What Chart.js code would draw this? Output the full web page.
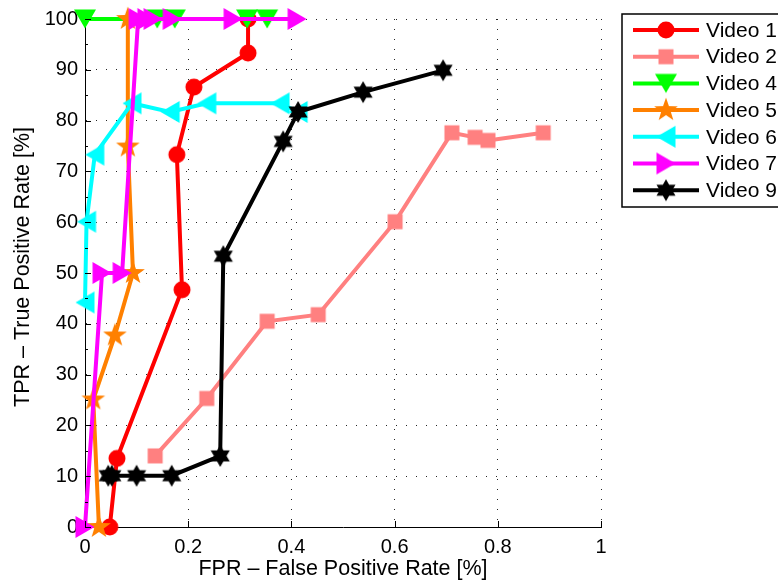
<!DOCTYPE html>
<html>
<head>
<meta charset="utf-8">
<script src="https://cdn.jsdelivr.net/npm/chart.js@4.4.1/dist/chart.umd.min.js"></script>
<style>
html, body { margin: 0; padding: 0; background: #fff; }
</style>
</head>
<body>
<canvas id="rocChart" width="778" height="588"></canvas>
<script>
// values (FPR as fraction, TPR in %)
const seriesNames = ['Video 1', 'Video 2', 'Video 4', 'Video 5', 'Video 6', 'Video 7', 'Video 9'];

const video1X = [0.048, 0.062, 0.188, 0.178, 0.211, 0.316, 0.316];
const video1Y = [0, 13.5, 46.7, 73.3, 86.6, 93.3, 100];

const video2X = [0.136, 0.236, 0.353, 0.452, 0.601, 0.711, 0.756, 0.781, 0.888];
const video2Y = [14, 25.3, 40.5, 41.8, 60.1, 77.6, 76.7, 76.1, 77.6];

const video4X = [0, 0.14, 0.174, 0.314, 0.353];
const video4Y = [100, 100, 100, 100, 100];

const video5X = [0.027, 0.016, 0.058, 0.093, 0.083, 0.083];
const video5Y = [0, 25.1, 37.7, 50, 74.9, 100];

const video6X = [0, 0.003, 0.019, 0.091, 0.165, 0.236, 0.378, 0.413];
const video6Y = [44.2, 60.1, 73.3, 83.4, 81.7, 83.4, 83.4, 81.7];

const video7X = [0, 0.033, 0.072, 0.103, 0.12, 0.132, 0.169, 0.287, 0.411];
const video7Y = [0, 50, 50, 100, 100, 100, 100, 100, 100];

const video9X = [0.045, 0.052, 0.1, 0.168, 0.262, 0.268, 0.384, 0.413, 0.539, 0.694];
const video9Y = [10.1, 10.1, 10.1, 10.1, 14, 53.3, 75.9, 81.7, 85.6, 89.9];

const xTickLabels = ['0', '0.2', '0.4', '0.6', '0.8', '1'];
const yTickLabels = ['0', '10', '20', '30', '40', '50', '60', '70', '80', '90', '100'];

const FONT = "'Liberation Sans', Arial, Helvetica, sans-serif";

// marker images (matlab style markers)
function starPath(g, n, outer, inner) {
    for (let i = 0; i < n * 2; i++) {
        const r = i % 2 === 0 ? outer : inner;
        const a = -Math.PI / 2 + i * Math.PI / n;
        if (i === 0) g.moveTo(r * Math.cos(a), r * Math.sin(a));
        else g.lineTo(r * Math.cos(a), r * Math.sin(a));
    }
}

function makeMarker(kind, color) {
    const c = document.createElement('canvas');
    c.width = 30;
    c.height = 30;
    const g = c.getContext('2d');
    g.fillStyle = color;
    g.translate(15, 15);
    g.beginPath();
    switch (kind) {
        case 'circle': g.arc(0, 0, 8.5, 0, Math.PI * 2); break;
        case 'square': g.rect(-7.5, -7.5, 15, 15); break;
        case 'down': g.moveTo(-11, -9.5); g.lineTo(11, -9.5); g.lineTo(0, 9.5); break;
        case 'left': g.moveTo(9.5, -11); g.lineTo(9.5, 11); g.lineTo(-9.5, 0); break;
        case 'right': g.moveTo(-9.5, -11); g.lineTo(-9.5, 11); g.lineTo(9.5, 0); break;
        case 'star5': starPath(g, 5, 12.5, 5); break;
        case 'hex': starPath(g, 6, 11, 6.3); break;
    }
    g.closePath();
    g.fill();
    return c;
}

const colors = ['#ff0000', '#ff8080', '#00ff00', '#ff8000', '#00ffff', '#ff00ff', '#000000'];
const markerKinds = ['circle', 'square', 'down', 'star5', 'left', 'right', 'hex'];
const xs = [video1X, video2X, video4X, video5X, video6X, video7X, video9X];
const ys = [video1Y, video2Y, video4Y, video5Y, video6Y, video7Y, video9Y];
const markers = markerKinds.map((k, i) => makeMarker(k, colors[i]));

const datasets = seriesNames.map((name, i) => ({
    label: name,
    data: xs[i].map((x, j) => ({ x: x, y: ys[i][j] })),
    borderColor: colors[i],
    backgroundColor: colors[i],
    borderWidth: 4,
    pointStyle: markers[i],
    pointRadius: 8,
    pointBorderWidth: 0,
    tension: 0,
    clip: false,
    order: seriesNames.length - i   // later series on top, like matlab
}));

// legend box + axis titles + inward ticks
const extras = {
    id: 'extras',
    afterDraw(chart) {
        const ctx = chart.ctx;
        const xs_ = chart.scales.x, ys_ = chart.scales.y;
        const area = chart.chartArea;
        ctx.save();

        // inward ticks
        ctx.strokeStyle = '#000';
        ctx.lineWidth = 1;
        ctx.beginPath();
        for (let v = 0; v <= 100; v += 5) {
            const py = Math.round(ys_.getPixelForValue(v)) + 0.5;
            const len = v % 10 === 0 ? 6 : 3;
            ctx.moveTo(area.left, py);
            ctx.lineTo(area.left + len, py);
        }
        for (let k = 0; k <= 5; k++) {
            const px = Math.round(xs_.getPixelForValue(k * 0.2)) + 0.5;
            ctx.moveTo(px, area.bottom);
            ctx.lineTo(px, area.bottom - 6);
        }
        ctx.stroke();

        // axis titles
        ctx.fillStyle = '#000';
        ctx.font = '21.5px ' + FONT;
        ctx.textAlign = 'center';
        ctx.textBaseline = 'middle';
        ctx.fillText('FPR \u2013 False Positive Rate [%]', 343, 569);
        ctx.save();
        ctx.translate(23, 267);
        ctx.rotate(-Math.PI / 2);
        ctx.fillText('TPR \u2013 True Positive Rate [%]', 0, 0);
        ctx.restore();

        // legend
        const bx = 622, by = 14, bw = 200, bh = 193;
        ctx.fillStyle = '#fff';
        ctx.fillRect(bx, by, bw, bh);
        ctx.strokeStyle = '#000';
        ctx.lineWidth = 1.5;
        ctx.strokeRect(bx, by, bw, bh);
        ctx.font = '21px ' + FONT;
        ctx.textAlign = 'left';
        ctx.textBaseline = 'middle';
        seriesNames.forEach((name, i) => {
            const ry = 30 + i * 26.7;
            ctx.strokeStyle = colors[i];
            ctx.lineWidth = 4;
            ctx.beginPath();
            ctx.moveTo(633, ry);
            ctx.lineTo(699, ry);
            ctx.stroke();
            ctx.drawImage(markers[i], 666 - 15, ry - 15);
            ctx.fillStyle = '#000';
            ctx.fillText(name, 706, ry + 1);
        });
        ctx.restore();
    }
};

new Chart(document.getElementById('rocChart'), {
    type: 'line',
    data: { datasets: datasets },
    options: {
        responsive: false,
        animation: false,
        layout: { padding: { top: 13, right: 177, left: 0, bottom: 0 } },
        plugins: { legend: { display: false }, tooltip: { enabled: false } },
        scales: {
            x: {
                type: 'linear',
                min: 0,
                max: 1,
                afterFit: s => { s.height = 61; },
                ticks: {
                    stepSize: 0.2,
                    padding: 8,
                    color: '#000',
                    font: { family: FONT, size: 20 },
                    maxRotation: 0,
                    callback: (v, i) => xTickLabels[i]
                },
                grid: { color: 'rgba(0,0,0,0.85)', lineWidth: 1, drawTicks: false },
                border: { display: true, color: '#000', width: 1, dash: [1, 9] }
            },
            y: {
                type: 'linear',
                min: 0,
                max: 100,
                afterFit: s => { s.width = 85; },
                ticks: {
                    stepSize: 10,
                    padding: 7,
                    color: '#000',
                    font: { family: FONT, size: 20 },
                    callback: (v, i) => yTickLabels[i]
                },
                grid: { color: 'rgba(0,0,0,0.85)', lineWidth: 1, drawTicks: false },
                border: { display: true, color: '#000', width: 1, dash: [1, 9] }
            }
        }
    },
    plugins: [extras]
});
</script>
</body>
</html>
